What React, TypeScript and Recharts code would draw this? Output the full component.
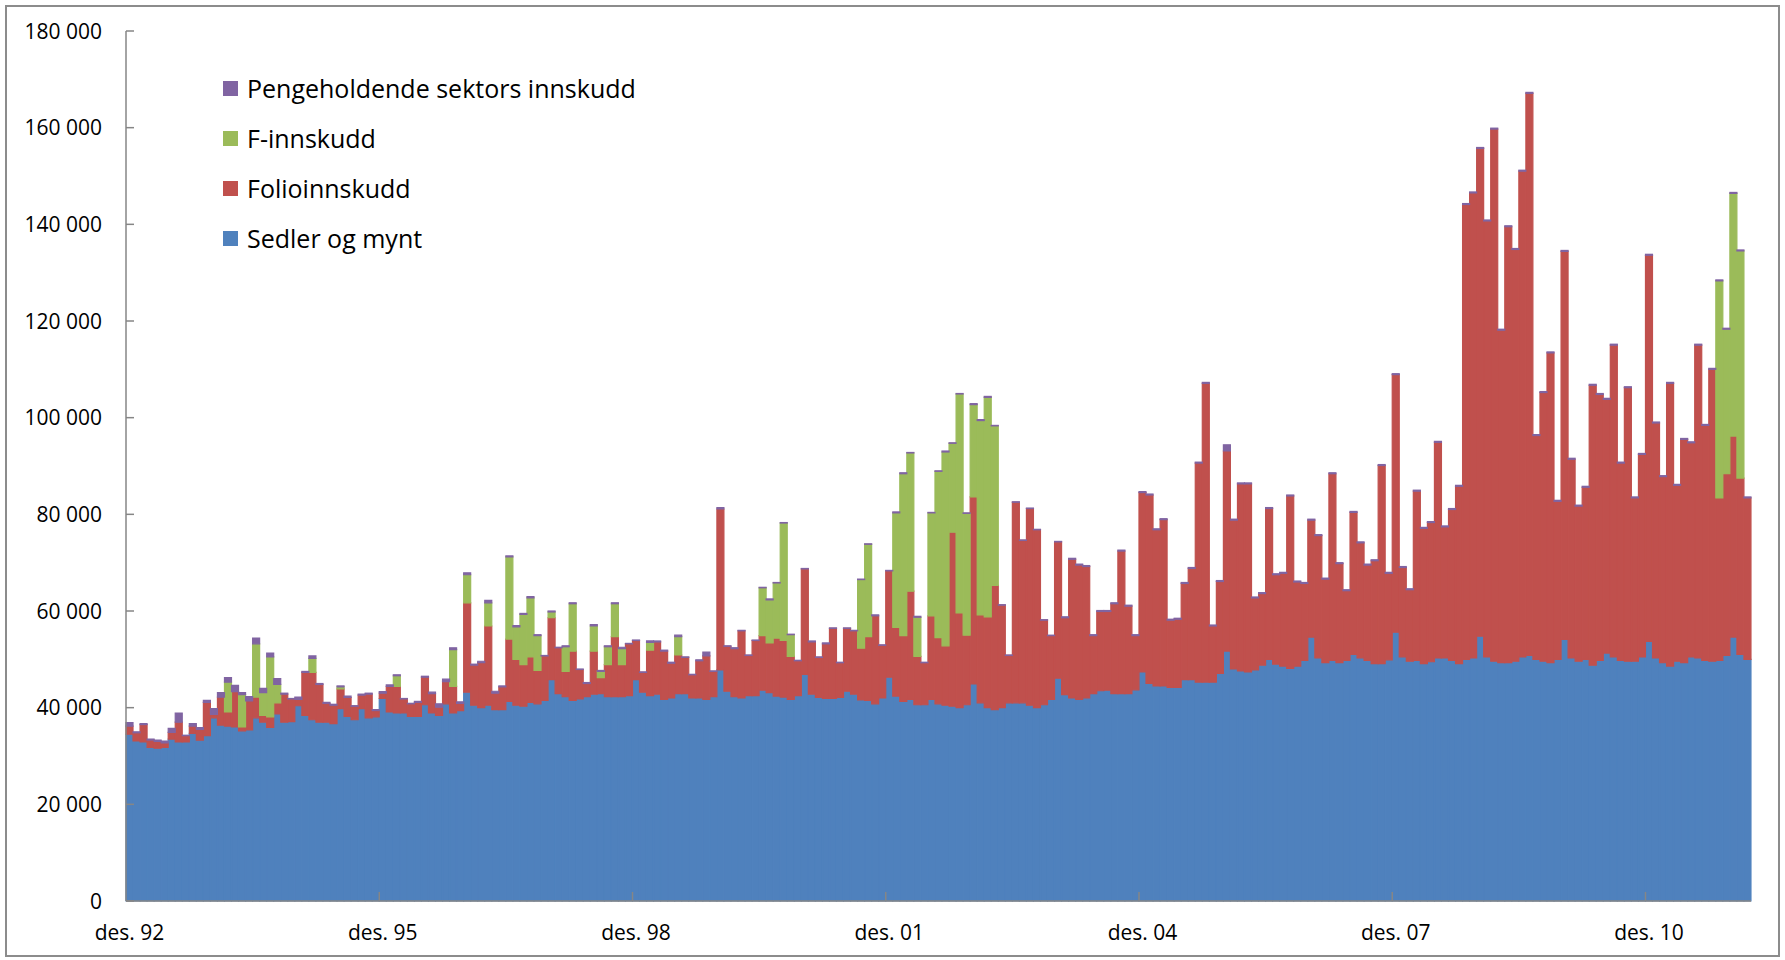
import React from "react";
import { BarChart, Bar, XAxis, YAxis } from "recharts";

// Pengemengde-komponenter, mill. kroner (verdier i tusen mill.), des. 92 - feb. 12
const monthNames = ["jan.", "feb.", "mar.", "apr.", "mai", "jun.", "jul.", "aug.", "sep.", "okt.", "nov.", "des."];
const firstYear = 1992;
const firstMonth = 11; // desember
const barCount = 231;

const yTicks = [0, 20, 40, 60, 80, 100, 120, 140, 160, 180];

const sedlerOgMynt = [
  34.5, 33.1, 32.9, 31.8, 31.6, 31.8, 33.5, 32.9, 32.9, 34.7, 33.3, 34.2,
  37.9, 36.4, 36.2, 36.0, 35.2, 35.4, 37.9, 37.0, 35.9, 38.7, 37.0, 37.1,
  40.4, 38.4, 37.5, 37.0, 37.0, 36.7, 39.8, 38.2, 37.5, 39.8, 37.9, 38.1,
  41.9, 39.1, 38.9, 38.9, 38.2, 38.2, 40.6, 38.9, 38.4, 40.8, 38.9, 39.4,
  43.2, 40.5, 40.0, 40.5, 39.6, 39.6, 41.3, 40.5, 40.3, 41.1, 40.8, 41.5,
  45.8, 42.9, 42.3, 41.5, 41.8, 42.3, 42.8, 42.9, 42.3, 42.3, 42.3, 42.5,
  45.8, 43.2, 42.5, 42.8, 41.7, 42.0, 42.9, 42.9, 42.0, 42.0, 41.7, 42.3,
  47.8, 43.4, 42.3, 42.0, 42.5, 42.5, 43.6, 43.1, 42.4, 42.2, 41.7, 42.5,
  46.9, 42.8, 42.1, 41.9, 41.9, 42.1, 43.4, 42.8, 41.6, 41.5, 40.8, 42.0,
  46.3, 42.4, 41.3, 41.7, 40.6, 40.6, 41.7, 40.8, 40.5, 40.3, 40.0, 40.6,
  44.9, 41.0, 40.0, 39.6, 40.0, 41.0, 41.0, 41.0, 40.5, 40.0, 40.6, 41.7,
  46.1, 42.7, 42.0, 41.7, 42.0, 42.9, 43.5, 43.6, 42.9, 42.9, 42.9, 43.7,
  47.4, 45.0, 44.5, 44.5, 44.2, 44.2, 45.8, 45.8, 45.3, 45.3, 45.3, 47.1,
  51.7, 48.0, 47.6, 47.4, 47.8, 48.8, 50.0, 49.0, 48.6, 48.1, 48.6, 49.8,
  54.6, 50.3, 49.3, 49.8, 49.3, 49.8, 51.0, 50.3, 49.8, 49.1, 49.1, 49.9,
  55.6, 50.5, 49.6, 49.8, 49.1, 49.5, 50.3, 50.3, 49.8, 49.1, 50.0, 50.3,
  54.8, 50.5, 49.6, 49.3, 49.3, 49.6, 50.5, 50.8, 50.0, 49.6, 49.3, 50.0,
  54.1, 50.3, 49.6, 50.0, 48.8, 49.8, 51.3, 50.5, 49.8, 49.6, 49.6, 50.5,
  53.7, 50.3, 49.3, 48.6, 49.6, 49.3, 50.5, 50.3, 49.8, 49.6, 49.8, 50.8,
  54.6, 51.0, 50.0,
];

const folioinnskudd = [
  1.7, 1.7, 3.6, 1.5, 1.4, 0.9, 1.4, 4.1, 1.3, 1.5, 2.2, 6.9,
  0.7, 5.8, 2.9, 7.3, 0.8, 6.0, 4.3, 1.4, 2.2, 2.3, 5.8, 4.7,
  1.3, 8.9, 9.8, 7.8, 3.9, 3.8, 4.1, 3.9, 2.8, 2.8, 4.9, 1.3,
  1.1, 5.3, 5.5, 2.9, 2.6, 2.9, 5.7, 4.0, 1.7, 4.6, 5.5, 1.5,
  18.5, 8.3, 9.3, 16.4, 3.4, 4.7, 12.9, 9.5, 8.6, 9.4, 6.9, 9.2,
  12.8, 9.5, 5.2, 10.2, 6.1, 2.7, 8.9, 3.3, 6.6, 12.4, 6.6, 10.7,
  8.1, 4.1, 9.4, 10.8, 10.0, 7.2, 8.0, 7.5, 4.8, 7.7, 9.0, 5.2,
  33.3, 9.3, 9.9, 13.9, 8.3, 11.4, 11.3, 10.3, 12.0, 11.7, 8.9, 7.2,
  21.8, 10.8, 8.3, 11.3, 14.5, 7.2, 13.0, 13.1, 10.7, 13.2, 18.2, 10.9,
  22.0, 14.2, 13.6, 22.4, 10.0, 8.7, 17.3, 13.7, 12.3, 36.0, 19.6, 14.4,
  38.7, 18.2, 18.8, 25.7, 21.2, 9.8, 41.5, 33.6, 40.7, 36.8, 17.5, 13.2,
  28.2, 15.9, 28.7, 27.8, 27.2, 12.0, 16.4, 16.3, 18.6, 29.5, 18.1, 11.2,
  37.1, 39.0, 32.3, 34.4, 13.9, 14.1, 19.9, 23.0, 45.3, 61.8, 11.6, 19.0,
  41.4, 30.8, 38.7, 38.9, 14.9, 14.8, 31.2, 18.5, 19.2, 35.7, 17.4, 15.9,
  24.2, 25.3, 17.3, 38.6, 20.5, 14.4, 29.4, 23.8, 19.7, 21.3, 41.0, 17.9,
  53.3, 18.5, 14.8, 35.0, 28.0, 28.8, 44.6, 27.1, 31.2, 36.7, 94.1, 96.2,
  100.9, 90.2, 110.1, 68.8, 90.2, 85.2, 100.5, 116.3, 46.3, 55.6, 64.1, 32.7,
  80.3, 41.1, 32.1, 35.6, 57.9, 55.0, 52.5, 64.5, 40.8, 56.6, 33.8, 41.9,
  79.9, 48.6, 38.5, 58.5, 36.4, 46.2, 44.3, 64.7, 48.6, 60.4, 33.6, 37.6,
  41.6, 36.5, 33.4,
];

const fInnskudd = [
  0, 0, 0, 0, 0, 0, 0, 0, 0, 0, 0, 0,
  0, 0, 6.2, 0, 6.7, 0, 11.0, 4.7, 12.4, 3.8, 0, 0,
  0, 0, 2.9, 0, 0, 0, 0.4, 0, 0, 0, 0, 0,
  0, 0, 2.2, 0, 0, 0, 0, 0, 0, 0, 7.6, 0,
  5.8, 0, 0, 4.8, 0, 0, 17.0, 6.7, 10.4, 12.2, 7.2, 0,
  1.2, 0, 5.1, 9.8, 0, 0, 5.2, 1.3, 3.7, 6.8, 3.3, 0,
  0, 0, 1.6, 0, 0, 0, 3.8, 0, 0, 0, 0, 0,
  0, 0, 0, 0, 0, 0, 9.9, 8.9, 11.4, 24.3, 4.5, 0,
  0, 0, 0, 0, 0, 0, 0, 0, 14.2, 19.1, 0, 0,
  0, 23.7, 33.5, 28.6, 8.1, 0, 21.3, 34.4, 40.1, 18.4, 45.3, 25.2,
  19.1, 40.2, 45.4, 33.0, 0, 0, 0, 0, 0, 0, 0, 0,
  0, 0, 0, 0, 0, 0, 0, 0, 0, 0, 0, 0,
  0, 0, 0, 0, 0, 0, 0, 0, 0, 0, 0, 0,
  0, 0, 0, 0, 0, 0, 0, 0, 0, 0, 0, 0,
  0, 0, 0, 0, 0, 0, 0, 0, 0, 0, 0, 0,
  0, 0, 0, 0, 0, 0, 0, 0, 0, 0, 0, 0,
  0, 0, 0, 0, 0, 0, 0, 0, 0, 0, 0, 0,
  0, 0, 0, 0, 0, 0, 0, 0, 0, 0, 0, 0,
  0, 0, 0, 0, 0, 0, 0, 0, 0, 0, 44.9, 29.9,
  50.2, 47.0, 0,
];

const pengeholdende = [
  0.7, 0.2, 0.2, 0.2, 0.3, 0.4, 0.8, 1.9, 0.1, 0.5, 0.4, 0.4,
  1.2, 0.9, 0.9, 1.3, 0.4, 0.9, 1.2, 0.9, 0.8, 1.2, 0.2, 0.1,
  0.5, 0.2, 0.5, 0.2, 0.2, 0.2, 0.2, 0.3, 0.1, 0.2, 0.2, 0.2,
  0.3, 0.3, 0.2, 0.1, 0.1, 0.2, 0.2, 0.3, 0.7, 0.5, 0.4, 0.3,
  0.4, 0.2, 0.3, 0.5, 0.4, 0.2, 0.2, 0.3, 0.2, 0.3, 0.2, 0.1,
  0.2, 0.1, 0.2, 0.2, 0.1, 0.2, 0.3, 0.2, 0.2, 0.2, 0.3, 0.1,
  0.1, 0.1, 0.3, 0.2, 0.2, 0.2, 0.3, 0.1, 0.1, 0.2, 0.8, 0.1,
  0.3, 0.1, 0.2, 0.1, 0.1, 0.1, 0.1, 0.2, 0.1, 0.1, 0.1, 0.1,
  0.1, 0.2, 0.1, 0.2, 0.1, 0.1, 0.1, 0.1, 0.1, 0.1, 0.2, 0.1,
  0.1, 0.2, 0.2, 0.1, 0.2, 0.1, 0.1, 0.1, 0.2, 0.1, 0.1, 0.1,
  0.2, 0.2, 0.2, 0.1, 0.1, 0.1, 0.1, 0.1, 0.1, 0.1, 0.1, 0.1,
  0.1, 0.2, 0.2, 0.2, 0.2, 0.2, 0.2, 0.2, 0.2, 0.2, 0.2, 0.2,
  0.2, 0.2, 0.2, 0.2, 0.2, 0.2, 0.2, 0.2, 0.2, 0.2, 0.2, 0.2,
  1.3, 0.2, 0.2, 0.2, 0.2, 0.2, 0.2, 0.2, 0.2, 0.2, 0.2, 0.2,
  0.2, 0.2, 0.2, 0.2, 0.2, 0.2, 0.2, 0.2, 0.2, 0.2, 0.2, 0.2,
  0.2, 0.2, 0.2, 0.2, 0.2, 0.2, 0.2, 0.2, 0.2, 0.2, 0.2, 0.2,
  0.2, 0.2, 0.2, 0.2, 0.2, 0.2, 0.2, 0.2, 0.2, 0.2, 0.2, 0.2,
  0.2, 0.2, 0.2, 0.2, 0.2, 0.2, 0.2, 0.2, 0.2, 0.2, 0.2, 0.2,
  0.2, 0.2, 0.2, 0.2, 0.2, 0.2, 0.2, 0.2, 0.2, 0.2, 0.2, 0.2,
  0.2, 0.2, 0.2,
];

const series = [
  { key: "sedler", name: "Sedler og mynt", color: "#4F81BD" },
  { key: "folio", name: "Folioinnskudd", color: "#C0504D" },
  { key: "f", name: "F-innskudd", color: "#9BBB59" },
  { key: "penge", name: "Pengeholdende sektors innskudd", color: "#8064A2" },
];

const categories: string[] = [];
for (let i = 0; i < barCount; i++) {
  const m = (firstMonth + i) % 12;
  const yr = firstYear + Math.floor((firstMonth + i) / 12);
  categories.push(`${monthNames[m]} ${String(yr % 100).padStart(2, "0")}`);
}

const data = categories.map((name, i) => ({
  name,
  sedler: sedlerOgMynt[i],
  folio: folioinnskudd[i],
  f: fInnskudd[i],
  penge: pengeholdende[i],
}));

const FONT = "'Open Sans', 'Liberation Sans', sans-serif";
const AXIS_COLOR = "#868686";

const formatThousands = (v: number) => (v === 0 ? "0" : `${v} 000`);

const YTick = (props: any) => {
  const { x, y, payload } = props;
  return (
    <g>
      <line x1={x + 24} x2={x + 32} y1={y} y2={y} stroke={AXIS_COLOR} strokeWidth={1.5} />
      <text x={x} y={y} dy="0.36em" textAnchor="end" fontSize={21} fontFamily={FONT} fill="#000">
        {formatThousands(payload.value)}
      </text>
    </g>
  );
};

const XTick = (props: any) => {
  const { x, y, payload } = props;
  return (
    <g>
      {payload.index > 0 && (
        <line x1={x - 3.5} x2={x - 3.5} y1={y} y2={y - 9} stroke={AXIS_COLOR} strokeWidth={1.5} />
      )}
      <text x={x} y={y + 39} textAnchor="middle" fontSize={21} fontFamily={FONT} fill="#000">
        {payload.value}
      </text>
    </g>
  );
};

// legend lists the top of the stack first
function ChartLegend() {
  return (
    <div style={{ position: "absolute", left: 223, top: 63, fontFamily: FONT, fontSize: 25, color: "#000" }}>
      {[...series].reverse().map((s) => (
        <div key={s.key} style={{ display: "flex", alignItems: "center", height: 50, whiteSpace: "nowrap" }}>
          <span style={{ display: "inline-block", width: 15, height: 15, background: s.color, marginRight: 9 }} />
          <span>{s.name}</span>
        </div>
      ))}
    </div>
  );
}

export default function App() {
  return (
    <div style={{ position: "absolute", left: 0, top: 0, width: 1785, height: 960, background: "#fff" }}>
      <style>{`body{margin:0}`}</style>
      <BarChart
        width={1785}
        height={960}
        data={data}
        margin={{ top: 31, right: 34, bottom: 0, left: 0 }}
        barCategoryGap={0}
        barGap={0}
      >
        <XAxis
          dataKey="name"
          interval={35}
          height={59}
          tickSize={0}
          tickMargin={0}
          tick={<XTick />}
          axisLine={{ stroke: AXIS_COLOR, strokeWidth: 1.5 }}
          tickLine={false}
        />
        <YAxis
          width={126}
          domain={[0, 180]}
          ticks={yTicks}
          tickSize={0}
          tickMargin={24}
          tick={<YTick />}
          axisLine={{ stroke: AXIS_COLOR, strokeWidth: 1.5 }}
          tickLine={false}
        />
        {series.map((s) => (
          <Bar
            key={s.key}
            dataKey={s.key}
            name={s.name}
            stackId="a"
            fill={s.color}
            stroke={s.color}
            strokeWidth={1.2}
            isAnimationActive={false}
          />
        ))}
      </BarChart>
      <ChartLegend />
      <div
        style={{
          position: "absolute",
          left: 5,
          top: 5,
          width: 1775,
          height: 952,
          border: "2px solid #8c8c8c",
          boxSizing: "border-box",
          pointerEvents: "none",
        }}
      />
    </div>
  );
}
